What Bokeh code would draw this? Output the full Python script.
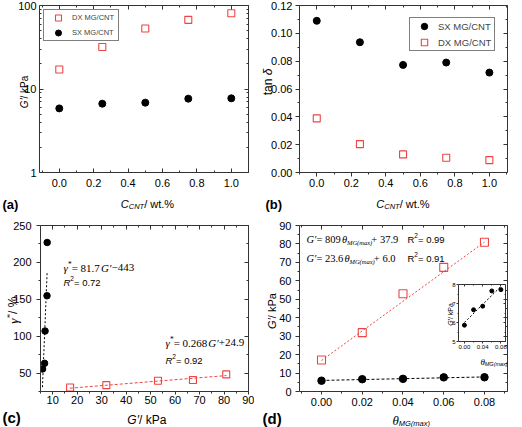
import math
from bokeh.plotting import figure
from bokeh.models import (Label, Legend, LegendItem, LinearAxis, LogAxis, FixedTicker,
                          Range1d, NumeralTickFormatter, BasicTickFormatter, CustomJSTickFormatter)
from bokeh.layouts import row, column
from bokeh.embed import file_html
from bokeh.resources import INLINE

# ---------------- data ----------------
c_cnt = [0.0, 0.25, 0.5, 0.75, 1.0]
g_dx = [17.1, 31.9, 53.0, 67.3, 80.9]          # DX MG/CNT  G' (kPa)
g_sx = [5.86, 6.67, 6.86, 7.66, 7.73]          # SX MG/CNT  G' (kPa)
tan_sx = [0.109, 0.0936, 0.0773, 0.079, 0.0718]
tan_dx = [0.0389, 0.0204, 0.0130, 0.0106, 0.0089]
gamma_sx = [55.5, 63.2, 107.0, 154.8, 227.0]   # gamma* (%)
gamma_dx = [30.5, 33.6, 39.6, 40.5, 48.2]
theta = [0.0, 0.02, 0.04, 0.06, 0.08]

# fitted lines (end points)
fit_c_sx_g = [5.8, 7.7]
fit_c_sx_gamma = [30.9, 186.1]
fit_c_dx_g = [17.0, 81.0]
fit_c_dx_gamma = [29.5, 46.6]
fit_d_theta = [0.0, 0.08]
fit_d_dx = [16.8, 81.0]
fit_d_sx = [6.0, 7.9]

# ticks
ticks_c01 = [0.0, 0.2, 0.4, 0.6, 0.8, 1.0]
minor_c01 = [-0.1, 0.1, 0.3, 0.5, 0.7, 0.9, 1.1]
ticks_log = [1, 10, 100]
minor_log = [2, 3, 4, 5, 6, 7, 8, 9, 20, 30, 40, 50, 60, 70, 80, 90]
ticks_tan = [0.0, 0.02, 0.04, 0.06, 0.08, 0.10, 0.12]
minor_tan = [0.01, 0.03, 0.05, 0.07, 0.09, 0.11]
ticks_gx = [10, 20, 30, 40, 50, 60, 70, 80, 90]
minor_gx = [5, 15, 25, 35, 45, 55, 65, 75, 85]
ticks_gam = [50, 100, 150, 200, 250]
minor_gam = [25, 75, 125, 175, 225]
ticks_th = [0.0, 0.02, 0.04, 0.06, 0.08]
minor_th = [-0.01, 0.01, 0.03, 0.05, 0.07, 0.09]
ticks_gd = [0, 10, 20, 30, 40, 50, 60, 70, 80, 90]
minor_gd = [5, 15, 25, 35, 45, 55, 65, 75, 85]
ticks_in_x = [0.0, 0.04, 0.08]
minor_in_x = [0.02, 0.06]
ticks_in_y = [5, 6, 7, 8]
minor_in_y = [5.5, 6.5, 7.5]

SANS, SERIF = "Liberation Sans", "Liberation Serif"
RED = "#EE4444"
AX = "#333333"
W, H = 522, 427

W_SANS = {}
for ch, w in zip(" !%()*+./0123456789=", [278, 278, 889, 333, 333, 389, 584, 278, 278] + [556] * 10 + [584]):
    W_SANS[ch] = w
for ch, w in zip("ABCDEFGHIJKLMNOPQRSTUVWXYZ",
                 [667, 667, 722, 722, 667, 611, 778, 722, 278, 500, 667, 556, 833, 722, 778, 667, 778, 722, 667, 611, 722, 667, 944, 667, 667, 611]):
    W_SANS[ch] = w
for ch, w in zip("abcdefghijklmnopqrstuvwxyz",
                 [556, 556, 500, 556, 556, 278, 556, 556, 222, 222, 500, 222, 833, 556, 556, 556, 556, 333, 500, 278, 556, 500, 722, 500, 500, 500]):
    W_SANS[ch] = w
W_SANS.update({"δ": 556, "θ": 556, "γ": 500, "′": 191, "−": 584})
W_SERIF = {" ": 250, "(": 333, ")": 333, "*": 500, "+": 564, ".": 250, "/": 278, "=": 564, "−": 564,
           "G": 722, "R": 611, "M": 833, "θ": 500, "γ": 440, "′": 275, "a": 500, "x": 500, "m": 722}
for ch in "0123456789":
    W_SERIF[ch] = 500


def tw(s, font, size, style="normal"):
    tbl = W_SERIF if font == SERIF else W_SANS
    w = sum(tbl.get(ch, 520) for ch in s) / 1000.0 * size
    if font == SERIF:
        w *= 0.95
    return w * (1.06 if style == "bold" else 1.0)


def make_fig(L, FW, R, T, FH, B, xr, yr, ylog=False, transparent=False):
    p = figure(frame_width=FW, frame_height=FH, min_border_left=L, min_border_right=R,
               min_border_top=T, min_border_bottom=B, x_range=Range1d(*xr), y_range=Range1d(*yr),
               y_axis_type="log" if ylog else "linear", toolbar_location=None, output_backend="svg")
    p.xgrid.visible = False
    p.ygrid.visible = False
    p.outline_line_color = None
    if transparent:
        p.background_fill_alpha = 0
        p.border_fill_alpha = 0
    else:
        p.background_fill_color = "white"
        p.border_fill_color = "white"
    return p


def style_axis(ax, ticks, minor, fmt, size, tin, tout, standoff, labels=True, mlen=2):
    ax.ticker = FixedTicker(ticks=ticks, minor_ticks=minor)
    ax.formatter = fmt if labels else CustomJSTickFormatter(code="return ''")
    ax.axis_line_color = AX
    ax.axis_line_width = 1
    ax.major_tick_line_color = AX
    ax.minor_tick_line_color = AX
    ax.major_tick_in = tin
    ax.major_tick_out = tout
    ax.minor_tick_in = mlen if tin else 0
    ax.minor_tick_out = mlen if tout else 0
    ax.major_label_text_font = SANS
    ax.major_label_text_font_size = f"{size}px"
    ax.major_label_text_color = "black"
    ax.major_label_standoff = standoff if labels else 0
    ax.axis_label = None


def box_axes(p, xt, xm, yt, ym, xfmt, yfmt, size, bx, ly, ylog=False, tlen=4, mlen=2):
    style_axis(p.xaxis[0], xt, xm, xfmt, size, *bx, mlen=mlen)
    style_axis(p.yaxis[0], yt, ym, yfmt, size, *ly, mlen=mlen)
    top = LinearAxis()
    style_axis(top, xt, xm, None, size, tlen, 0, 0, labels=False, mlen=mlen)
    p.add_layout(top, "above")
    right = LogAxis() if ylog else LinearAxis()
    style_axis(right, yt, ym, None, size, tlen, 0, 0, labels=False, mlen=mlen)
    p.add_layout(right, "right")


def sq(p, x, y, size):
    return p.scatter(x, y, marker="square", size=size, fill_color=None, line_color=RED, line_width=1.1)


def dot(p, x, y, size):
    return p.scatter(x, y, marker="circle", size=size, fill_color="black", line_color="black")


def legend(items, font, gw, gh, sp, lw, loc, margin):
    return Legend(items=items, location=loc, margin=margin, padding=0, spacing=sp,
                  glyph_width=gw, glyph_height=gh, label_height=gh, label_width=lw, label_standoff=0,
                  label_text_font=SANS, label_text_font_size=f"{font}px",
                  border_line_color="black", border_line_width=1, background_fill_color="white")


# ---------------- overlay figure that carries all the texts (page coordinates) ----------------
ov = figure(frame_width=W, frame_height=H, min_border=0, x_range=Range1d(0, 1), y_range=Range1d(0, 1),
            x_axis_type=None, y_axis_type=None, toolbar_location=None, output_backend="svg")
ov.background_fill_alpha = 0
ov.border_fill_alpha = 0
ov.outline_line_color = None


def add_text(cx, cy, pieces, angle=0.0, anchor="left"):
    """cx, cy: page pixel coords (top-left origin) of the baseline start / center."""
    total = sum(tw(t, f, s, st) for t, f, s, st, d in pieces)
    off = 0.0 if anchor == "left" else -total / 2.0
    for t, f, s, st, d in pieces:
        if angle == 0:
            px, py = cx + off, cy + d
        else:
            px, py = cx + d, cy - off
        ov.add_layout(Label(x=px, y=H - py, x_units="screen", y_units="screen",
                            text=t, text_font=f, text_font_size=f"{s}px", text_font_style=st,
                            text_color="black", text_baseline="alphabetic", text_align="left",
                            angle=angle))
        off += tw(t, f, s, st)


ROT = math.pi / 2

# ---------------- (a) ----------------
pa = make_fig(39, 209, 6, 5, 167, 40, (-0.115, 1.10), (1, 100), ylog=True)
box_axes(pa, ticks_c01, minor_c01, ticks_log, minor_log, NumeralTickFormatter(format="0.0"),
         BasicTickFormatter(), 11, (4, 0, 6), (4, 0, 3), ylog=True)
ra_dx = sq(pa, c_cnt, g_dx, 7)
ra_sx = dot(pa, c_cnt, g_sx, 7)
pa.add_layout(legend([LegendItem(label="DX MG/CNT", renderers=[ra_dx]),
                      LegendItem(label="SX MG/CNT", renderers=[ra_sx])],
                     7.5, 28, 15, -6, 46, "top_left", 4))

# ---------------- (b) ----------------
pb = make_fig(45, 208, 15, 5, 167, 40, (-0.1, 1.105), (0, 0.12))
box_axes(pb, ticks_c01, minor_c01, ticks_tan, minor_tan, NumeralTickFormatter(format="0.0"),
         NumeralTickFormatter(format="0.00"), 11, (0, 4, 2), (0, 4, 3))
rb_sx = dot(pb, c_cnt, tan_sx, 7)
rb_dx = sq(pb, c_cnt, tan_dx, 7)
pb.add_layout(legend([LegendItem(label="SX MG/CNT", renderers=[rb_sx]),
                      LegendItem(label="DX MG/CNT", renderers=[rb_dx])],
                     9.5, 28, 16, -5, 56, "top_right", 12))

# ---------------- (c) ----------------
pc = make_fig(40, 208, 6, 13, 166, 36, (5, 90), (25, 250))
box_axes(pc, ticks_gx, minor_gx, ticks_gam, minor_gam, BasicTickFormatter(), BasicTickFormatter(),
         11, (0, 3, 1), (0, 4, 5))
pc.line(fit_c_sx_g, fit_c_sx_gamma, line_color="black", line_width=1, line_dash="2 2")
pc.line(fit_c_dx_g, fit_c_dx_gamma, line_color=RED, line_width=1, line_dash="3 2")
dot(pc, g_sx, gamma_sx, 6.5)
sq(pc, g_dx, gamma_dx, 7)

# ---------------- (d) ----------------
pd = make_fig(45, 208, 15, 13, 166, 36, (-0.0108, 0.0913), (0, 90))
box_axes(pd, ticks_th, minor_th, ticks_gd, minor_gd, NumeralTickFormatter(format="0.00"),
         BasicTickFormatter(), 11, (0, 3, 3), (0, 4, 4))
pd.line(fit_d_theta, fit_d_dx, line_color=RED, line_width=1, line_dash="2 2")
pd.line(fit_d_theta, fit_d_sx, line_color="black", line_width=1, line_dash="3 2")
sq(pd, theta, g_dx, 8)
dot(pd, theta, g_sx, 7.5)

# ---------------- inset of (d) ----------------
pi_ = make_fig(14, 47, 2, 4, 57, 12, (-0.013, 0.09), (5, 8), transparent=True)
box_axes(pi_, ticks_in_x, minor_in_x, ticks_in_y, minor_in_y, NumeralTickFormatter(format="0.00"),
         BasicTickFormatter(), 6, (0, 2, 1), (0, 2, 1), tlen=2, mlen=1)
pi_.line(fit_d_theta, fit_d_sx, line_color="black", line_width=1, line_dash="2 2")
dot(pi_, theta, g_sx, 4)
INSET_TOP, INSET_LEFT = 280, 444

# ---------------- texts ----------------
# (a)
add_text(20 + 3.6, 90, [("G′", SANS, 10, "italic", 0), (" / kPa", SANS, 10, "normal", 0)],
         angle=ROT, anchor="center")
add_text(148.5, 203, [("C", SANS, 11, "italic", 0), ("CNT", SANS, 7.5, "italic", 3),
                      (" / wt.%", SANS, 11, "normal", 0)], anchor="center")
add_text(2, 203.5, [("(a)", SANS, 13, "bold", 0)])
# (b)
add_text(263.5 + 4.2, 81.5, [("tan ", SANS, 12, "normal", 0), ("δ", SANS, 12, "italic", 0)],
         angle=ROT, anchor="center")
add_text(404, 203, [("C", SANS, 11, "italic", 0), ("CNT", SANS, 7.5, "italic", 3),
                    (" / wt.%", SANS, 11, "normal", 0)], anchor="center")
add_text(265, 203.5, [("(b)", SANS, 13, "bold", 0)])
# (c)
add_text(8.5 + 4.2, 308, [("γ", SERIF, 13, "italic", 0), ("*", SERIF, 9, "normal", -3.5),
                          (" / %", SANS, 12, "normal", 0)], angle=ROT, anchor="center")
add_text(148, 419, [("G′", SANS, 12, "italic", 0), (" / kPa", SANS, 12, "normal", 0)], anchor="center")
add_text(2, 416.5, [("(c)", SANS, 15, "bold", 0)])
add_text(63, 267, [("γ", SERIF, 11, "italic", 0), ("*", SERIF, 7.5, "normal", -3),
                   (" = 81.7", SERIF, 11, "normal", 0), ("G′", SERIF, 11, "italic", 0),
                   ("−443", SERIF, 11, "normal", 0)])
add_text(63, 281.5, [("R", SANS, 9.5, "italic", 0), ("2", SANS, 6.5, "normal", -4),
                     (" = 0.72", SANS, 9.5, "normal", 0)])
add_text(165, 342, [("γ", SERIF, 11, "italic", 0), ("*", SERIF, 7.5, "normal", -3),
                    (" = 0.268", SERIF, 11, "normal", 0), ("G′", SERIF, 11, "italic", 0),
                    ("+24.9", SERIF, 11, "normal", 0)])
add_text(165, 359.5, [("R", SANS, 9.5, "italic", 0), ("2", SANS, 6.5, "normal", -4),
                      (" = 0.92", SANS, 9.5, "normal", 0)])
# (d)
add_text(267.5 + 4.0, 309, [("G′", SANS, 11, "italic", 0), (" / kPa", SANS, 11, "normal", 0)],
         angle=ROT, anchor="center")
add_text(392, 420, [("θ", SERIF, 13, "italic", 0), ("MG(max)", SANS, 7.5, "italic", 3)])
add_text(262, 417.5, [("(d)", SANS, 15, "bold", 0)])
add_text(306, 239, [("G′", SERIF, 10.5, "italic", 0), (" = 809", SERIF, 10.5, "normal", 0),
                    ("θ", SERIF, 10.5, "italic", 0), ("MG(max)", SERIF, 6.5, "italic", 3),
                    (" + 37.9", SERIF, 10.5, "normal", 0)])
add_text(407, 239, [("R", SANS, 9.5, "normal", 0), ("2", SANS, 6.5, "normal", -4),
                    (" = 0.99", SANS, 9.5, "normal", 0)])
add_text(306, 258, [("G′", SERIF, 10.5, "italic", 0), (" = 23.6", SERIF, 10.5, "normal", 0),
                    ("θ", SERIF, 10.5, "italic", 0), ("MG(max)", SERIF, 6.5, "italic", 3),
                    (" + 6.0", SERIF, 10.5, "normal", 0)])
add_text(407, 258, [("R", SANS, 9.5, "normal", 0), ("2", SANS, 6.5, "normal", -4),
                    (" = 0.91", SANS, 9.5, "normal", 0)])
# inset
add_text(447 + 2.5, 313, [("G′", SANS, 7, "italic", 0), (" / kPa", SANS, 7, "normal", 0)],
         angle=ROT, anchor="center")
add_text(480, 361, [("θ", SERIF, 9, "italic", 0), ("MG(max)", SANS, 5.5, "italic", 2)])

# each overlaid plot sits in its own wrapper so that no frame alignment is applied between them
ov_box = row(ov, margin=(-H, 0, 0, 0))
inset_box = row(pi_, margin=(INSET_TOP - H, 0, 0, INSET_LEFT))
layout = column(row(pa, pb), row(pc, pd), ov_box, inset_box)
open("out.html", "w").write(file_html(layout, INLINE))
